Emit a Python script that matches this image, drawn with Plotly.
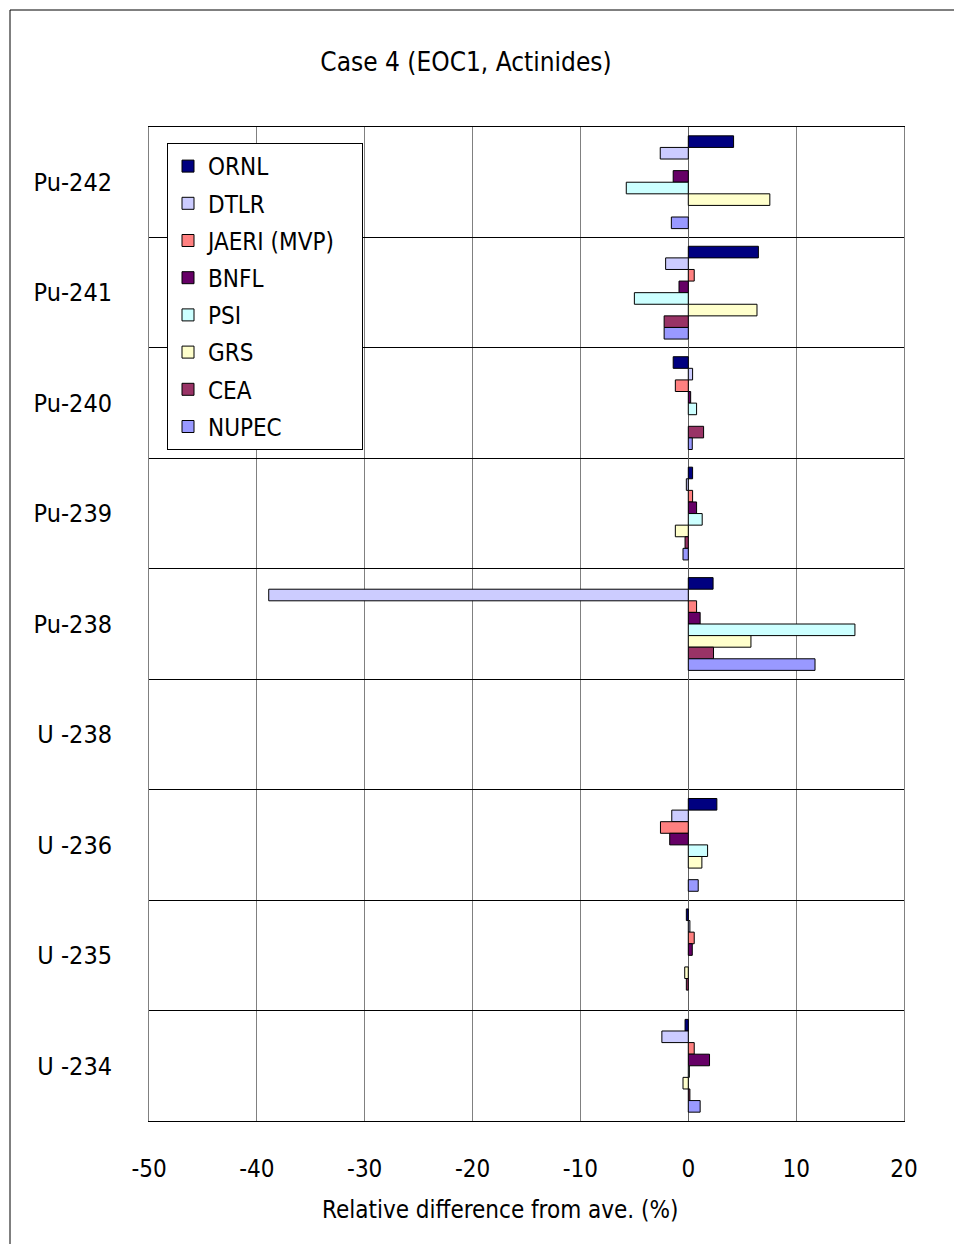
import plotly.graph_objects as go

categories = ["Pu-242", "Pu-241", "Pu-240", "Pu-239", "Pu-238", "U -238", "U -236", "U -235", "U -234"]
labs = ["ORNL", "DTLR", "JAERI (MVP)", "BNFL", "PSI", "GRS", "CEA", "NUPEC"]
colors = ["#000080", "#CCCCFF", "#FF8080", "#660066", "#CCFFFF", "#FFFFCC", "#993366", "#9999FF"]

ornl  = [4.2, 6.5, -1.4, 0.4, 2.3, None, 2.65, -0.18, -0.3]
dtlr  = [-2.6, -2.1, 0.4, -0.18, -38.9, None, -1.53, 0.15, -2.45]
jaeri = [None, 0.55, -1.2, 0.4, 0.77, None, -2.58, 0.55, 0.55]
bnfl  = [-1.4, -0.86, 0.22, 0.77, 1.1, None, -1.72, 0.37, 1.97]
psi   = [-5.75, -5.0, 0.77, 1.29, 15.45, None, 1.79, None, 0.1]
grs   = [7.56, 6.37, None, -1.2, 5.81, None, 1.26, -0.33, -0.49]
cea   = [None, -2.24, 1.42, -0.3, 2.34, None, None, -0.18, 0.15]
nupec = [-1.57, -2.24, 0.37, -0.49, 11.75, None, 0.92, None, 1.1]
series = [ornl, dtlr, jaeri, bnfl, psi, grs, cea, nupec]

x_ticks = [-50, -40, -30, -20, -10, 0, 10, 20]

FONT = "DejaVu Sans Condensed, Liberation Sans Narrow, Arial Narrow, Liberation Sans, sans-serif"

fig = go.Figure()
for name, vals, col in zip(labs, series, colors):
    legend_name = name + ("\u00a0" * 3 if name == "JAERI (MVP)" else "")
    fig.add_trace(go.Bar(
        y=categories, x=vals, name=legend_name, orientation="h",
        marker=dict(color=col, line=dict(color="black", width=1)),
        legendgroup=name,
    ))

L, R, T, B = 149, 50, 127, 123
W, H = 954, 1244
pw, ph = W - L - R, H - T - B

fig.update_layout(
    width=W, height=H,
    margin=dict(l=L, r=R, t=T, b=B),
    paper_bgcolor="white", plot_bgcolor="white",
    barmode="group", bargap=0.16, bargroupgap=0,
    font=dict(family=FONT, size=24, color="black"),
    title=dict(text="Case 4 (EOC1, Actinides)", x=466 / W, xref="container", xanchor="center",
               y=1 - 62 / H, yref="container", yanchor="middle",
               font=dict(family=FONT, size=26, color="black")),
    showlegend=True,
    legend=dict(x=(167 - L) / pw, y=1 - (143 - T) / ph, xanchor="left", yanchor="top",
                bordercolor="black", borderwidth=1, bgcolor="white",
                font=dict(family=FONT, size=24, color="black"),
                tracegroupgap=3, itemwidth=30),
    xaxis=dict(range=[-50, 20], tickvals=x_ticks, ticktext=[str(v) for v in x_ticks],
               showgrid=True, gridcolor="#808080", gridwidth=1,
               zeroline=True, zerolinecolor="#606060", zerolinewidth=1,
               showline=True, linecolor="black", linewidth=1, mirror=True,
               ticks="", ticklabelstandoff=26,
               tickfont=dict(family=FONT, size=24, color="black")),
    yaxis=dict(type="category", categoryorder="array", categoryarray=categories,
               range=[len(categories) - 0.5, -0.5],
               tickson="boundaries", showgrid=True, gridcolor="black", gridwidth=1,
               showline=True, linecolor="#808080", linewidth=1, mirror=True,
               ticks="", ticklabelstandoff=31,
               tickfont=dict(family=FONT, size=25, color="black")),
)

fig.add_annotation(text="Relative difference from ave. (%)", xref="paper", yref="paper",
                   x=(500 - L) / pw, y=-(1210 - (H - B)) / ph, xanchor="center", yanchor="middle",
                   showarrow=False, font=dict(family=FONT, size=24, color="black"))

# outer frame
fig.add_shape(type="rect", xref="paper", yref="paper",
              x0=(10 - L) / pw, x1=(970 - L) / pw,
              y0=-(1260 - (H - B)) / ph, y1=((H - B) - 10) / ph,
              line=dict(color="black", width=1), fillcolor="rgba(0,0,0,0)", layer="below")

fig.write_html("out.html", config={"displayModeBar": False},
               post_script="document.body.style.margin='0';document.body.style.overflow='hidden';")
